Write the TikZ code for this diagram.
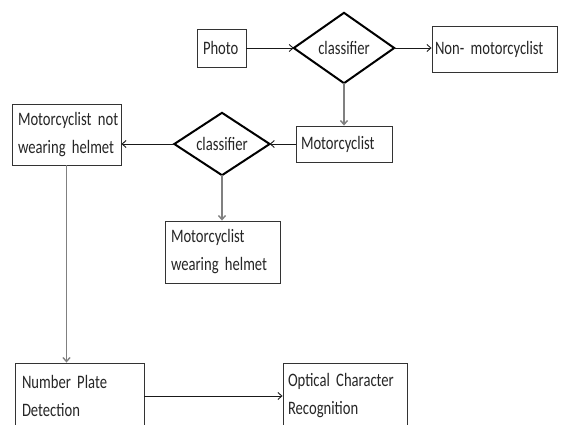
\documentclass[tikz,border=0pt]{standalone}
\usepackage{fontspec}
\setmainfont{Carlito}[FakeStretch=0.77,WordSpace=0.6]
\usetikzlibrary{arrows.meta}
\begin{document}
\begin{tikzpicture}[x=1pt,y=-1pt,
  txt/.style={text=black!85, font=\fontsize{19}{28}\selectfont},
  box/.style={txt, draw=black!80, line width=0.9pt, rectangle, inner ysep=0pt, inner xsep=6pt, align=left},
  dia/.style={txt, rectangle, inner sep=0pt},
  dshape/.style={draw=black, line width=2pt, line join=miter},
  darrow/.style={draw=black!90, line width=0.9pt, -{Straight Barb[length=4pt,width=7pt]}},
  garrow/.style={draw=black!50, line width=1.4pt, -{Straight Barb[length=4pt,width=7pt]}}]
\useasboundingbox (0,0) rectangle (562,424);
\fill[white] (0,0) rectangle (562,424);
\clip (0,0) rectangle (562,424);

\node[box, minimum height=38, text width=37] (photo) at (221.5,48) {Photo};
\node[dia, minimum width=100, minimum height=70] (d1) at (344,48) {classifier};
\draw[dshape] (d1.west) -- (d1.north) -- (d1.east) -- (d1.south) -- cycle;
\node[box, inner xsep=3pt, minimum height=46, text width=119] (nm) at (494.5,49) {\mbox{Non- motorcyclist}};
\node[box, inner xsep=5pt, minimum height=36, text width=86] (moto) at (344,144) {Motorcyclist};
\node[dia, minimum width=95, minimum height=62] (d2) at (222,144) {classifier};
\draw[dshape] (d2.west) -- (d2.north) -- (d2.east) -- (d2.south) -- cycle;
\node[box, minimum height=61, text width=97] (mnwh) at (66.5,134.5) {\mbox{Motorcyclist not}\\\mbox{wearing helmet}};
\node[box, minimum height=62, text width=103] (mwh) at (222.5,252) {\mbox{Motorcyclist}\\\mbox{wearing helmet}};
\node[box, inner xsep=7pt, minimum height=66, text width=115] (npd) at (79.5,396) {\mbox{Number Plate}\\\mbox{Detection}};
\node[box, inner xsep=5pt, minimum height=66, text width=114] (ocr) at (345,396) {\mbox{Optical Character}\\\mbox{Recognition}};

\draw[darrow] (photo) -- (d1);
\draw[darrow] (d1.east) -- (d1.east -| nm.west);
\draw[garrow] (d1.south) -- (moto.north);
\draw[darrow] (moto) -- (d2);
\draw[darrow] (d2.west) -- (d2.west -| mnwh.east);
\draw[garrow] (d2.south) -- (d2.south |- mwh.north);
\draw[garrow] (mnwh.south) -- (mnwh.south |- npd.north);
\draw[darrow] (npd) -- (ocr);
\end{tikzpicture}
\end{document}
